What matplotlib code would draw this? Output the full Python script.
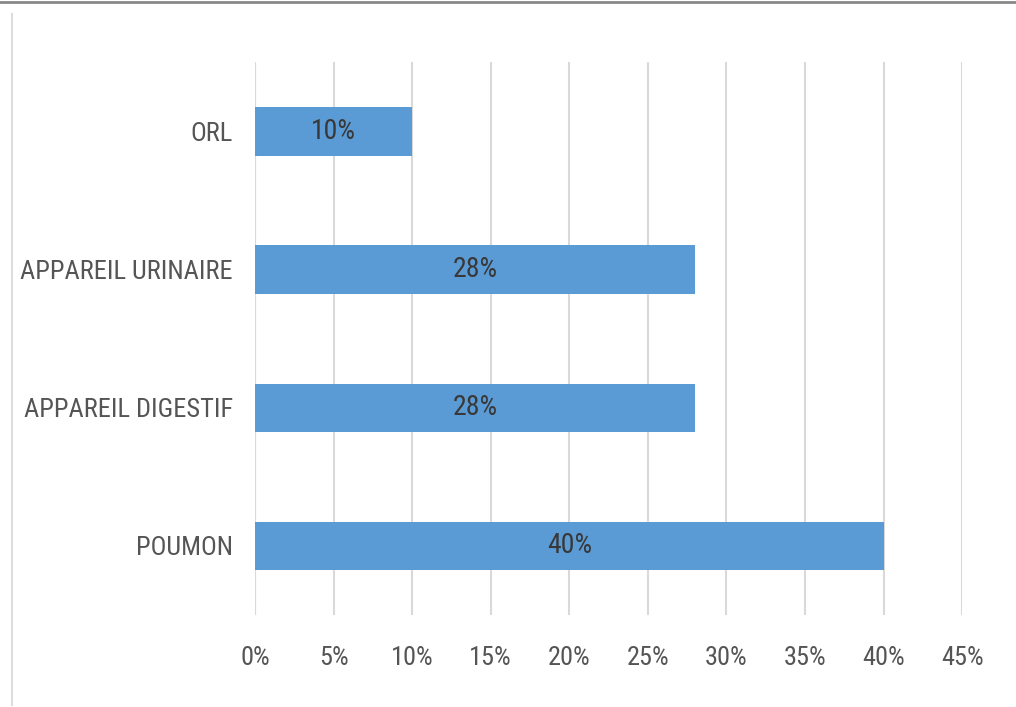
import matplotlib.pyplot as plt
from matplotlib.lines import Line2D
from matplotlib import font_manager

categories = ['POUMON', 'APPAREIL DIGESTIF', 'APPAREIL URINAIRE', 'ORL']
values = [40, 28, 28, 10]
ticks = [0, 5, 10, 15, 20, 25, 30, 35, 40, 45]

# police étroite si disponible, sinon police normale plus petite
names = {f.name for f in font_manager.fontManager.ttflist}
etroites = ['Liberation Sans Narrow', 'Roboto Condensed', 'DejaVu Sans Condensed',
            'Open Sans Condensed', 'Noto Sans Condensed']
police = next((n for n in etroites if n in names), None)
if police:
    taille = 19
else:
    police = 'Open Sans' if 'Open Sans' in names else 'DejaVu Sans'
    taille = 15
plt.rcParams['font.family'] = [police, 'DejaVu Sans']

fig = plt.figure(figsize=(10.16, 7.07), dpi=100)
ax = fig.add_axes([0.251, 0.130, 0.696, 0.782])

pos = list(range(len(categories)))
ax.barh(pos, values, height=0.35, color='#5B9BD5', zorder=3)
for p, v in zip(pos, values):
    ax.text(v / 2, p, f'{v}%', ha='center', va='center', fontsize=taille + 1,
            color='#383838', zorder=4)

ax.set_xlim(0, 45)
ax.set_ylim(-0.5, 3.5)
ax.set_xticks(ticks)
ax.set_xticklabels([f'{t}%' for t in ticks])
ax.set_yticks(pos)
ax.set_yticklabels(categories)
ax.tick_params(axis='both', length=0, labelsize=taille, colors='#555555')
ax.tick_params(axis='x', pad=22)
ax.tick_params(axis='y', pad=16)
ax.grid(axis='x', color='#d9d9d9', linewidth=1.5, zorder=0)
for s in ax.spines.values():
    s.set_visible(False)
ax.axvline(0, color='#d9d9d9', linewidth=1.5, zorder=1)

# cadre de l'image
fig.add_artist(Line2D([0, 1], [0.997, 0.997], color='#888888', linewidth=2, transform=fig.transFigure))
fig.add_artist(Line2D([0.012, 0.012], [0.003, 0.98], color='#dddddd', linewidth=1.5, transform=fig.transFigure))

fig.savefig('out.png', dpi=100)
